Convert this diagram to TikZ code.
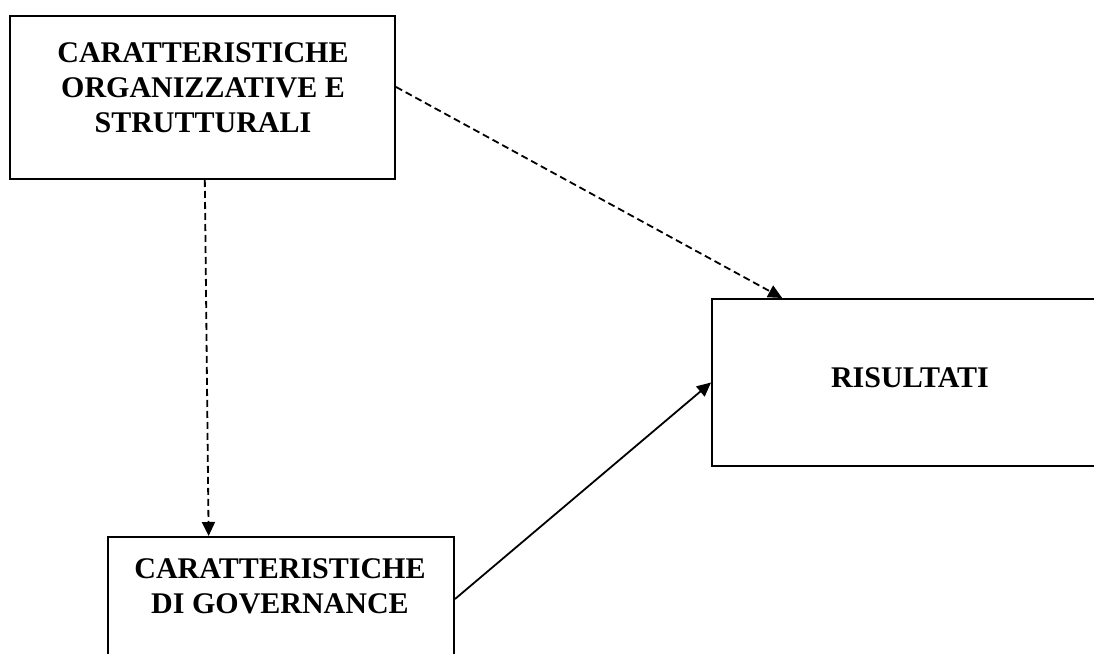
\documentclass[tikz,border=0pt]{standalone}
\usepackage{fontspec}
\setmainfont{Liberation Serif}
\usetikzlibrary{arrows.meta,calc}
\begin{document}
\begin{tikzpicture}[x=1pt,y=-1pt,
  box/.style={draw=black,line width=2pt,rectangle,inner sep=0pt},
  label/.style={font=\fontsize{30}{35}\selectfont\bfseries,align=center,inner sep=0pt,anchor=base},
  link/.style={line width=1.8pt,-{Triangle[length=14pt,width=13pt]}},
  dashlink/.style={link,dash pattern=on 7pt off 4pt}]
  \useasboundingbox (0,0) rectangle (1094,653);
  % boxes
  \node[box,minimum width=385pt,minimum height=163pt] (b1) at (202.5,97.5) {};
  \node[box,minimum width=398pt,minimum height=167pt] (b2) at (911,382.5) {};
  \node[box,minimum width=346pt,minimum height=163pt] (b3) at (281,618.5) {};
  % texts (anchored at the baseline of the last line)
  \node[label] (t1) at (203,132) {CARATTERISTICHE\\ORGANIZZATIVE E\\STRUTTURALI};
  \node[label] (t2) at (910,387) {RISULTATI};
  \node[label] (t3) at (280,613) {CARATTERISTICHE\\DI GOVERNANCE};
  % connectors
  \draw[dashlink] ($(b1.south west)!0.506!(b1.south east)$) -- ($(b3.north west)!0.292!(b3.north east)$);
  \draw[dashlink] ($(b1.north east)!0.436!(b1.south east)$) -- ($(b2.north west)!0.178!(b2.north east)$);
  \draw[link] ($(b3.north east)+(0,63)$) -- (b2.west);
\end{tikzpicture}
\end{document}
